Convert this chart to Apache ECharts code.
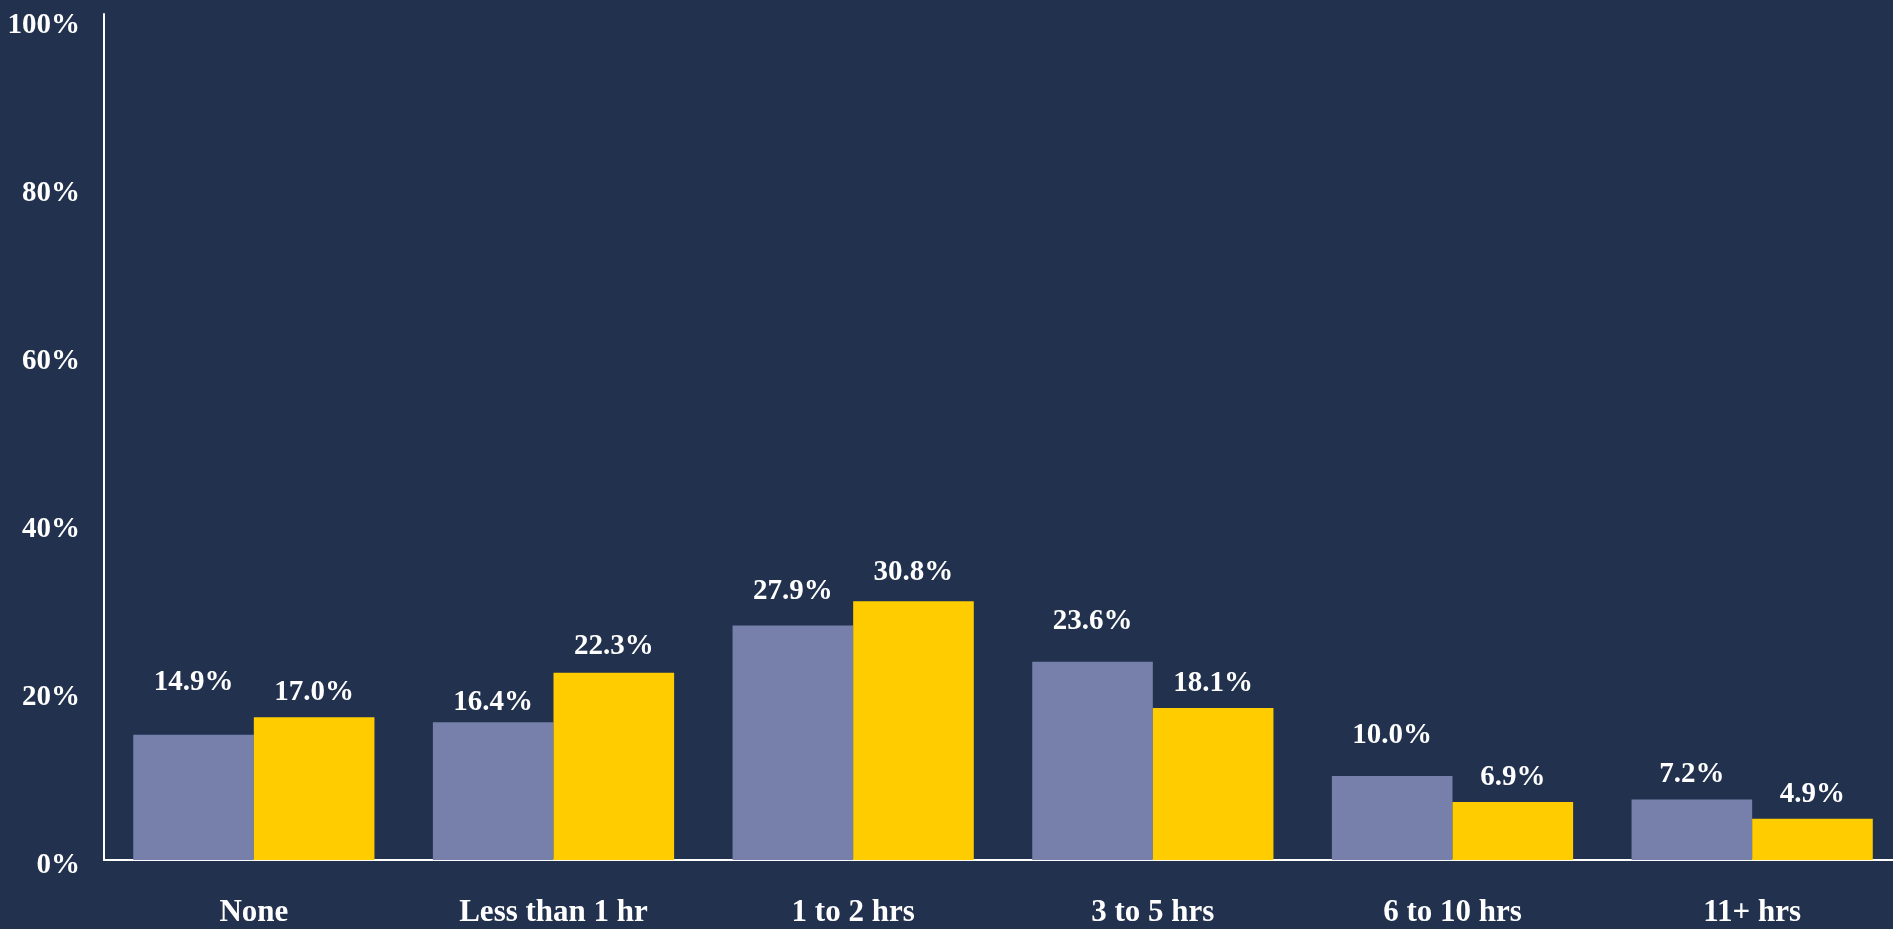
<!DOCTYPE html>
<html>
<head>
<meta charset="utf-8">
<script src="https://cdn.jsdelivr.net/npm/echarts@6/dist/echarts.min.js"></script>
<style>
html,body{margin:0;padding:0;background:#22324E;}
#chart{width:1893px;height:929px;}
</style>
</head>
<body>
<div id="chart"></div>
<script>
const categories = ['None', 'Less than 1 hr', '1 to 2 hrs', '3 to 5 hrs', '6 to 10 hrs', '11+ hrs'];
const seriesA = [14.9, 16.4, 27.9, 23.6, 10.0, 7.2];
const seriesB = [17.0, 22.3, 30.8, 18.1, 6.9, 4.9];
const yTicks = [0, 20, 40, 60, 80, 100];

// label nudges (styling only, in px; negative = upward)
const nudgeA = [-28, 5, -10, -16, -16, 0];
const nudgeB = [0, -2, -4, 0, 0, 0];

const font = '"Liberation Serif", "DejaVu Serif", serif';

function build(values, nudges) {
  return values.map((v, i) => ({
    value: v,
    label: { offset: [0, nudges[i]] }
  }));
}

const chart = echarts.init(document.getElementById('chart'), null, { renderer: 'canvas' });
chart.setOption({
  backgroundColor: '#22324E',
  animation: false,
  grid: { left: 104, width: 1798, top: 14, bottom: 69, containLabel: false, outerBoundsMode: 'none' },
  xAxis: {
    type: 'category',
    data: categories,
    axisLine: { show: true, lineStyle: { color: '#FFFFFF', width: 2 } },
    axisTick: { show: false },
    axisLabel: {
      color: '#FFFFFF', fontFamily: font, fontWeight: 'bold', fontSize: 31,
      margin: 37, interval: 0
    }
  },
  yAxis: {
    type: 'value',
    min: yTicks[0],
    max: 100.7,
    interval: 20,
    axisLine: { show: true, lineStyle: { color: '#FFFFFF', width: 2 } },
    axisTick: { show: false },
    splitLine: { show: false },
    axisLabel: {
      margin: 24,
      formatter: v => (yTicks.indexOf(Math.round(v * 1000) / 1000) >= 0 ? '{t|' + v + '%}' : ''),
      rich: {
        t: {
          color: '#FFFFFF', fontFamily: font, fontWeight: 'bold', fontSize: 29,
          padding: [12, 0, 0, 0]
        }
      }
    }
  },
  series: [
    {
      type: 'bar',
      data: build(seriesA, nudgeA),
      barGap: '0%',
      barCategoryGap: '19.5%',
      itemStyle: { color: '#7680AA' },
      label: {
        show: true, position: 'top', distance: 10,
        color: '#FFFFFF', fontFamily: font, fontWeight: 'bold', fontSize: 29,
        formatter: p => p.value.toFixed(1) + '%'
      }
    },
    {
      type: 'bar',
      data: build(seriesB, nudgeB),
      barGap: '0%',
      barCategoryGap: '19.5%',
      itemStyle: { color: '#FFCC00' },
      label: {
        show: true, position: 'top', distance: 10,
        color: '#FFFFFF', fontFamily: font, fontWeight: 'bold', fontSize: 29,
        formatter: p => p.value.toFixed(1) + '%'
      }
    }
  ]
});
</script>
</body>
</html>
